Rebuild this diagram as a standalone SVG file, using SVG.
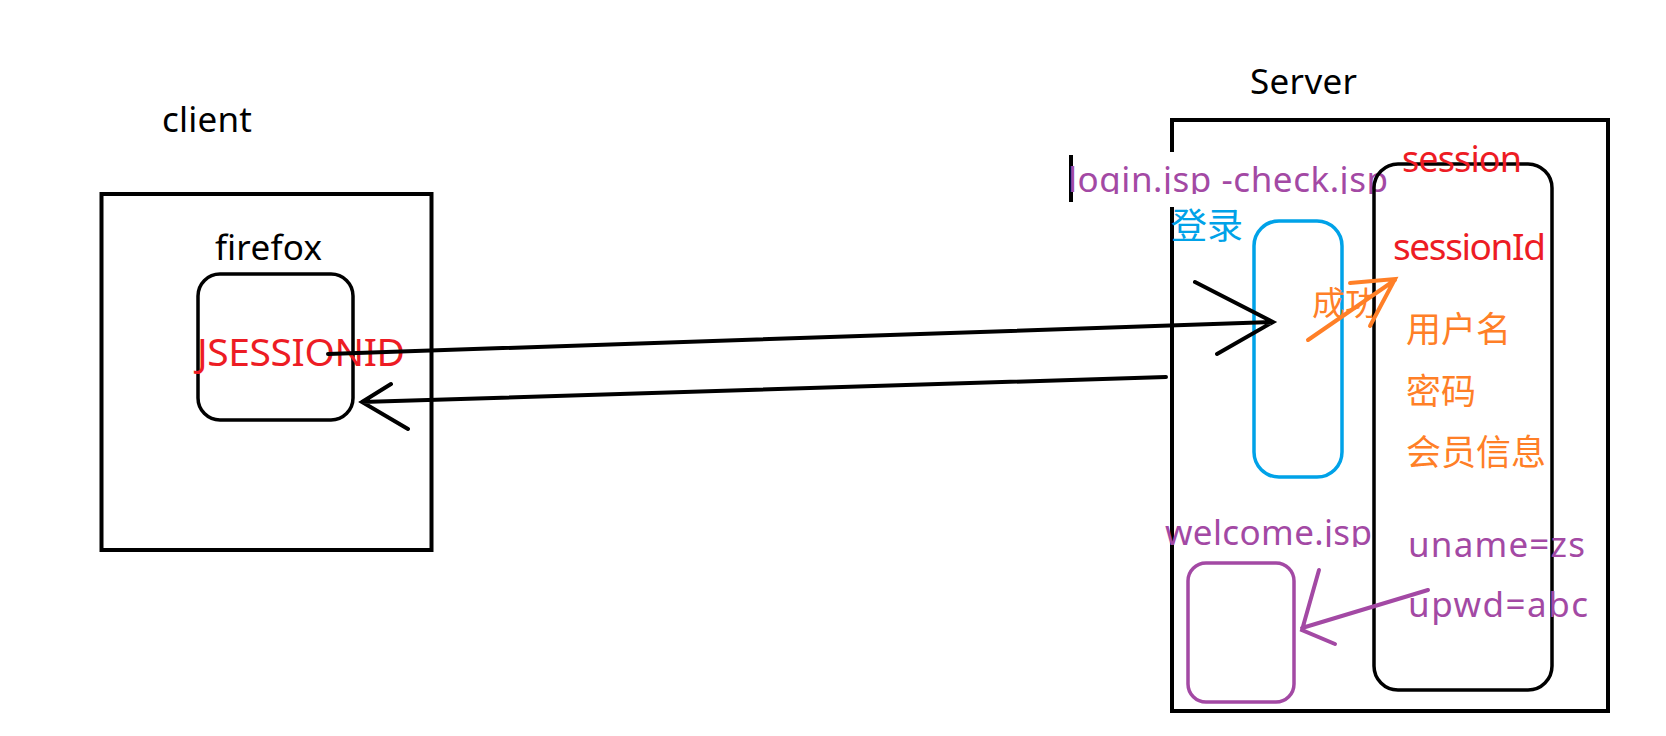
<svg xmlns="http://www.w3.org/2000/svg" width="1666" height="736" viewBox="0 0 1666 736">
<style>
.box{fill:none;stroke:#000;stroke-width:4}
.inner{fill:none;stroke:#000;stroke-width:3.5}
.t{font-family:"Noto Sans","Liberation Sans",sans-serif}
.cjk{font-family:"Noto Sans CJK SC","Noto Sans",sans-serif}
.blk{fill:#000}
.red{fill:#ed1c24}
.pur{fill:#a349a4}
.org{fill:#ff7f27}
.blu{fill:#00a2e8}
.con{fill:none;stroke:#000;stroke-width:4;stroke-linecap:round}
</style>
<defs>
<clipPath id="clipLogin"><rect x="1050" y="140" width="360" height="54"/></clipPath>
<clipPath id="clipWelcome"><rect x="1150" y="500" width="240" height="47"/></clipPath>
</defs>
<rect width="1666" height="736" fill="#fff"/>

<g id="client">
<rect class="box" x="101.5" y="194" width="330" height="356"/>
<text class="t blk" x="162" y="132" font-size="35" textLength="90">client</text>
</g>

<g id="firefox">
<rect class="inner" x="198" y="274" width="155" height="146" rx="22"/>
<text class="t blk" x="215" y="260" font-size="35" textLength="107">firefox</text>
<text class="t red" x="197" y="366" font-size="39" textLength="208">JSESSIONID</text>
</g>

<g id="server">
<rect class="box" x="1172" y="120" width="436" height="591"/>
<rect x="1060" y="152" width="308" height="55" fill="#fff"/>
<text class="t blk" x="1250" y="94" font-size="35" textLength="107">Server</text>
</g>

<g id="login-check">
<rect x="1254" y="221" width="88" height="256" rx="25" fill="none" stroke="#00a2e8" stroke-width="3.5"/>
<line x1="1071" y1="155" x2="1071" y2="202" stroke="#000" stroke-width="4"/>
<text class="t pur" x="1068" y="192" font-size="35" textLength="320" clip-path="url(#clipLogin)">login.jsp -check.jsp</text>
<text class="cjk blu" x="1171" y="239" font-size="36">登录</text>
<text class="cjk org" x="1312" y="315" font-size="33">成功</text>
</g>

<g id="session">
<rect class="inner" x="1374" y="164" width="178" height="526" rx="24"/>
<text class="t red" x="1402" y="172" font-size="36" textLength="120">session</text>
<text class="t red" x="1393" y="260" font-size="37" textLength="153">sessionId</text>
<text class="cjk org" x="1406" y="342" font-size="35">用户名</text>
<text class="cjk org" x="1406" y="404" font-size="35">密码</text>
<text class="cjk org" x="1406" y="465" font-size="35">会员信息</text>
<text class="t pur" x="1408" y="557" font-size="35" textLength="177">uname=zs</text>
<text class="t pur" x="1408" y="617" font-size="35" textLength="180">upwd=abc</text>
</g>

<g id="welcome">
<rect x="1188" y="563" width="106" height="139" rx="18" fill="none" stroke="#a349a4" stroke-width="3.5"/>
<text class="t pur" x="1165" y="545" font-size="35" textLength="207" clip-path="url(#clipWelcome)">welcome.jsp</text>
</g>

<g id="connectors">
<path class="con" d="M328 354 L1273 322 M1195 282 L1273 322 L1217 354"/>
<path class="con" d="M1166 377 L362 402 M391 384 L362 402 L408 429"/>
<path d="M1308 340 L1395 280 M1350 283 L1395 279 L1370 326" fill="none" stroke="#ff7f27" stroke-width="4" stroke-linecap="round"/>
<path d="M1428 590 L1302 628 M1319 570 L1302 630 L1335 644" fill="none" stroke="#a349a4" stroke-width="4" stroke-linecap="round"/>
</g>
</svg>
